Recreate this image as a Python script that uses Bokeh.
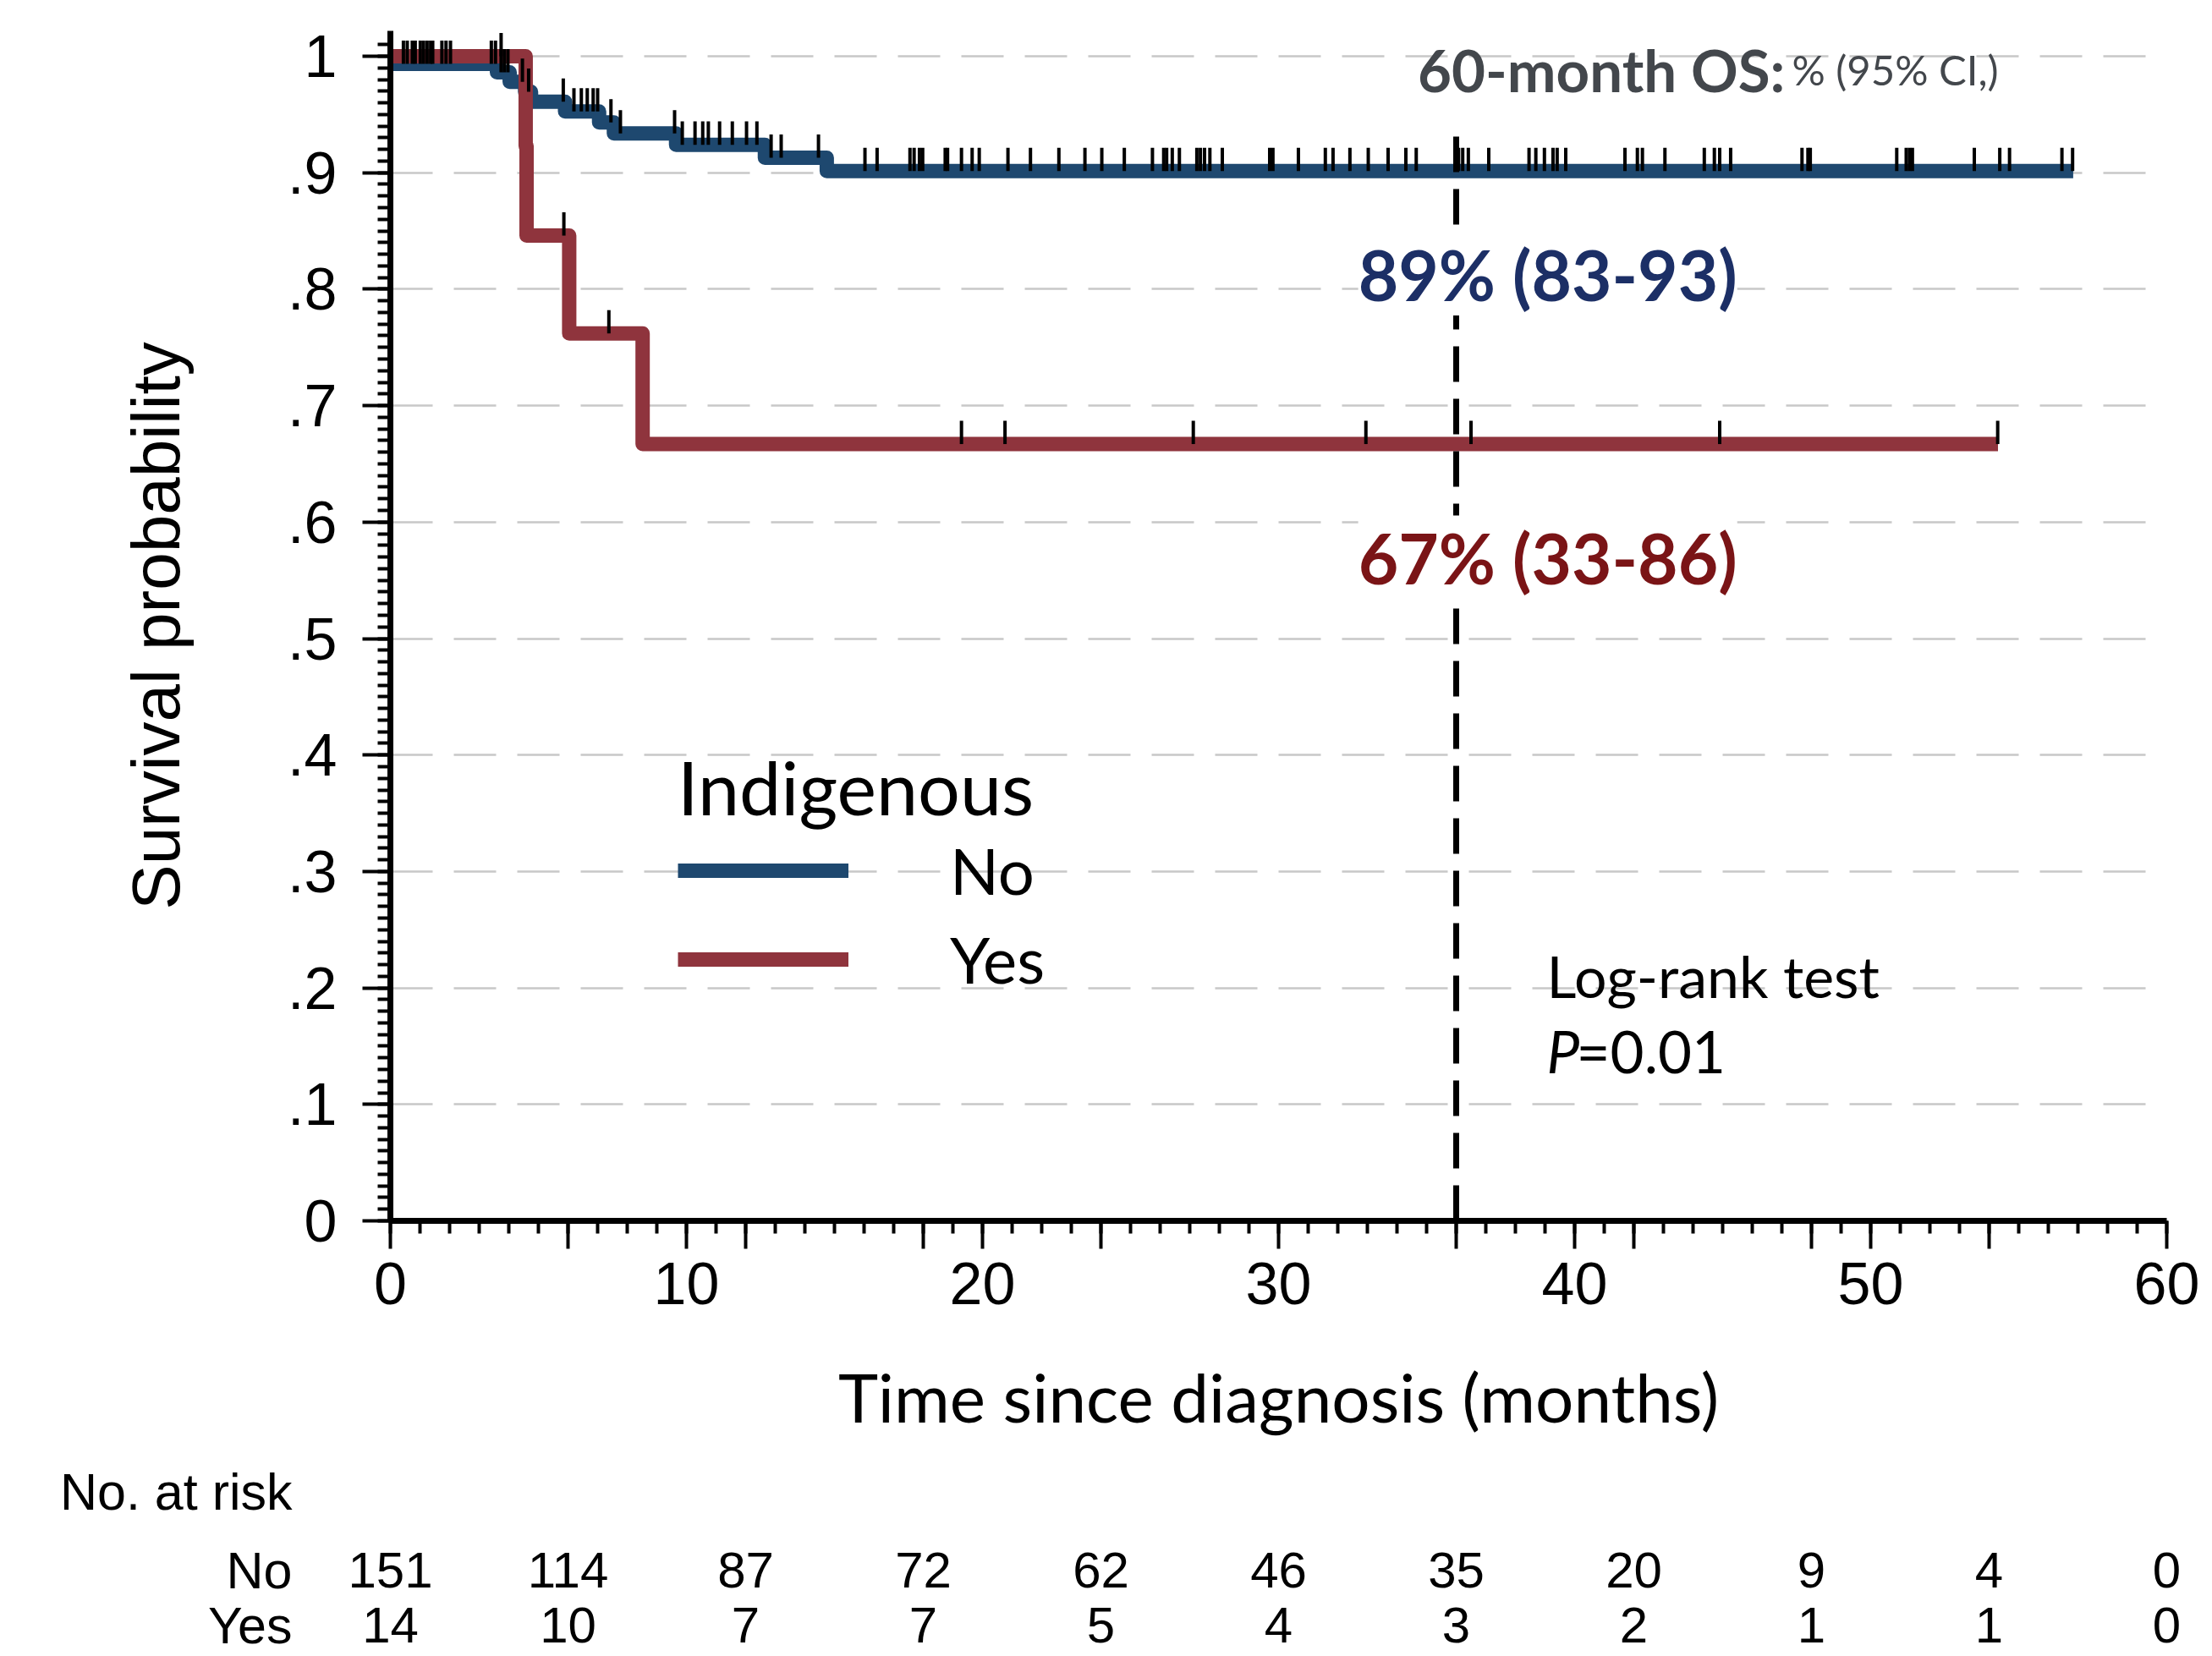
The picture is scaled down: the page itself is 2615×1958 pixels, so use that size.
import numpy as np
from bokeh.plotting import figure
from bokeh.models import Range1d, FixedTicker, Legend, LegendItem, Label
from bokeh.core.properties import value
from bokeh.layouts import column
from bokeh.embed import file_html
from bokeh.resources import INLINE

# ---------------- data ----------------
groups = ["No", "Yes"]
legend_title = "Indigenous"

# Kaplan-Meier steps (time in months, survival probability)
no_times = [0, 3.6, 4.03, 4.55, 4.75, 5.9, 7.05, 7.55, 9.65, 12.65, 14.74]
no_surv = [0.9935, 0.9862, 0.978, 0.9695, 0.961, 0.9526, 0.9431, 0.9337, 0.924, 0.9129, 0.9014]
no_last = 56.84
no_censor = [0.44, 0.57, 0.74, 0.84, 1.01, 1.12, 1.24, 1.36, 1.43, 1.74, 1.88, 2.03,
             3.41, 3.55, 3.74, 3.85, 3.97, 4.46, 4.67, 5.84, 6.2, 6.45, 6.65, 6.85,
             7.0, 7.45, 7.77, 9.6, 9.86, 10.29, 10.55, 10.74, 11.12, 11.55, 12.03,
             12.38, 12.86, 13.2, 14.46, 16.03, 16.44, 17.55, 17.69, 17.87, 17.98,
             18.74, 18.82, 19.29, 19.65, 19.89, 20.86, 21.62, 22.58, 23.46, 24.03,
             24.79, 25.74, 26.12, 26.22, 26.41, 26.65, 27.24, 27.36, 27.5, 27.68,
             28.1, 29.7, 29.81, 30.67, 31.58, 31.84, 32.41, 33.03, 33.7, 34.3,
             34.65, 36.08, 36.22, 36.41, 37.1, 38.46, 38.69, 38.98, 39.27, 39.41,
             39.7, 41.7, 42.12, 42.29, 43.05, 44.38, 44.72, 44.9, 45.27, 47.68,
             47.88, 47.96, 50.88, 51.2, 51.31, 51.41, 53.5, 54.36, 54.69, 56.46, 56.82]

yes_times = [0, 4.57, 4.60, 6.04, 8.52]
yes_surv = [1.0, 0.923, 0.846, 0.762, 0.667]
yes_last = 54.3
yes_censor = [3.74, 5.86, 7.38, 19.29, 20.76, 27.12, 32.95, 36.5, 44.9, 54.29]

x_label_ticks = [0, 10, 20, 30, 40, 50, 60]
y_major_ticks = [0.0, 0.1, 0.2, 0.3, 0.4, 0.5, 0.6, 0.7, 0.8, 0.9, 1.0]
y_tick_labels = ["0", ".1", ".2", ".3", ".4", ".5", ".6", ".7", ".8", ".9", "1"]

risk_times = [0, 6, 12, 18, 24, 30, 36, 42, 48, 54, 60]
risk_no = [151, 114, 87, 72, 62, 46, 35, 20, 9, 4, 0]
risk_yes = [14, 10, 7, 7, 5, 4, 3, 2, 1, 1, 0]
risk_header = "No. at risk"

landmark = 36
os_header = "60-month OS:"
os_sub = "% (95% CI,)"
os_no = "89% (83-93)"
os_yes = "67% (33-86)"
test_name = "Log-rank test"
p_text = "=0.01"

# ---------------- styles ----------------
BLUE = "#1e486f"
RED = "#8f343d"
SANS = "Liberation Sans"
CAL = "Lato"
W = 2615
MAIN_H = 1720
TBL_H = 1958 - MAIN_H
LEFT = 461
RIGHT = 2561
TOP = 36
PX_PER_UNIT = 1377.0
FRAME_H = MAIN_H - TOP - 277
Y_END = FRAME_H / PX_PER_UNIT
TICK_LEN = 0.02
CURVE_W = 17

p = figure(width=W, height=MAIN_H, x_range=Range1d(0, 60), y_range=Range1d(0, Y_END),
           min_border_left=LEFT, min_border_right=W - RIGHT, min_border_top=TOP,
           min_border_bottom=MAIN_H - TOP - FRAME_H,
           toolbar_location=None, output_backend="svg")
p.frame_align = False
p.outline_line_color = None
p.background_fill_color = "white"
p.border_fill_color = "white"

# axes
xmajor = sorted(set(x_label_ticks) | set(risk_times))
p.xaxis.ticker = FixedTicker(ticks=xmajor, minor_ticks=list(range(0, 61)))
p.xaxis.major_label_overrides = {t: (str(t) if t in x_label_ticks else "") for t in xmajor}
p.yaxis.ticker = FixedTicker(ticks=y_major_ticks,
                             minor_ticks=[round(i * 0.01, 2) for i in range(0, 102)])
p.yaxis.major_label_overrides = dict(zip(y_major_ticks, y_tick_labels))
for ax in (p.xaxis[0], p.yaxis[0]):
    ax.axis_line_width = 7
    ax.axis_line_color = "black"
    ax.major_tick_line_width = 4
    ax.minor_tick_line_width = 4
    ax.major_tick_in = 0
    ax.minor_tick_in = 0
    ax.major_tick_out = 33
    ax.minor_tick_out = 15
    ax.major_label_text_font = SANS
    ax.major_label_text_font_size = "70px"
    ax.major_label_text_color = "black"
    ax.axis_label_text_font_style = "normal"
    ax.axis_label_text_color = "black"
p.xaxis.major_label_standoff = 16
p.yaxis.major_label_standoff = 30
p.xaxis.axis_label = "Time since diagnosis (months)"
p.xaxis.axis_label_text_font = CAL
p.xaxis.axis_label_text_font_size = "80px"
p.xaxis.axis_label_standoff = 58
p.yaxis.axis_label = "Survival probability"
p.yaxis.axis_label_text_font = SANS
p.yaxis.axis_label_text_font_size = "80px"
p.yaxis.axis_label_standoff = 108

p.xgrid.visible = False
p.ygrid.ticker = FixedTicker(ticks=y_major_ticks)
p.ygrid.grid_line_color = "#c8c8c8"
p.ygrid.grid_line_width = 2.5
p.ygrid.grid_line_dash = "50 25"


def level_at(times, surv, t):
    idx = np.searchsorted(np.asarray(times), t, side="right") - 1
    return np.asarray(surv)[idx]


curves = [
    (no_times, no_surv, no_last, no_censor, BLUE),
    (yes_times, yes_surv, yes_last, yes_censor, RED),
]
renderers = []
for times, surv, last, cens, col in curves:
    r = p.step(x=list(times) + [last], y=list(surv) + [surv[-1]], mode="after",
               line_width=CURVE_W, line_color=col, line_join="round")
    renderers.append(r)

for times, surv, last, cens, col in curves:
    lv = level_at(times, surv, cens)
    p.segment(x0=cens, y0=lv, x1=cens, y1=lv + TICK_LEN, line_color="black", line_width=4)

# landmark dashed line
p.line(x=[landmark, landmark], y=[0, 0.935], line_color="black", line_width=7,
       line_dash="42 20")

# legend
legend = Legend(items=[LegendItem(label=g, renderers=[r]) for g, r in zip(groups, renderers)],
                title=legend_title, location=(340, 264))
legend.title_text_font = CAL
legend.title_text_font_size = "88px"
legend.title_text_font_style = "normal"
legend.title_text_color = "black"
legend.title_standoff = 0
legend.label_text_font = CAL
legend.label_text_font_size = "76px"
legend.label_text_color = "black"
legend.glyph_width = 202
legend.glyph_height = 20
legend.label_height = 20
legend.label_standoff = 120
legend.spacing = 14
legend.padding = 0
legend.margin = 0
legend.border_line_color = None
legend.background_fill_alpha = 0
p.add_layout(legend)

# annotations
GRAY = "#43474c"
p.add_layout(Label(x=34.7, y=0.9885, text=os_header, text_font=CAL, text_font_style="bold",
                   text_font_size="69px", text_color=GRAY, text_baseline="alphabetic"))
p.add_layout(Label(x=47.34, y=0.9885, text=os_sub, text_font=CAL,
                   text_font_size="49px", text_color=GRAY, text_baseline="alphabetic"))
p.add_layout(Label(x=32.69, y=0.813, text=os_no, text_font=CAL, text_font_style="bold",
                   text_font_size="82px", text_color="#1c2f66", text_baseline="alphabetic",
                   background_fill_color="white"))
p.add_layout(Label(x=32.69, y=0.570, text=os_yes, text_font=CAL, text_font_style="bold",
                   text_font_size="82px", text_color="#7a1416", text_baseline="alphabetic",
                   background_fill_color="white"))
p.add_layout(Label(x=39.06, y=0.2105, text=test_name, text_font=CAL,
                   text_font_size="68px", text_color="black", text_baseline="alphabetic"))
p.add_layout(Label(x=39.06, y=0.146, text="P", text_font=CAL, text_font_style="italic",
                   text_font_size="69px", text_color="black", text_baseline="alphabetic"))
p.add_layout(Label(x=39.06, y=0.146, x_offset=35, text=p_text, text_font=CAL,
                   text_font_size="69px", text_color="black", text_baseline="alphabetic"))

# ---------------- number at risk table ----------------
row_pos = {"No": 2, "Yes": 1}
header_pos = 3.43
T_PAD_L = 2.0
T_PAD_R = 1.4
T_LEFT = LEFT - int(T_PAD_L * 35)
t = figure(width=W, height=TBL_H, x_range=Range1d(-T_PAD_L, 60 + T_PAD_R),
           y_range=Range1d(0.431, 4.092),
           min_border_left=T_LEFT, min_border_right=W - (RIGHT + int(T_PAD_R * 35)),
           min_border_top=0, min_border_bottom=0, x_axis_location=None,
           toolbar_location=None, output_backend="svg")
t.frame_align = False
t.outline_line_color = None
t.grid.visible = False
t.yaxis.ticker = FixedTicker(ticks=[row_pos["Yes"], row_pos["No"], header_pos])
t.yaxis.major_label_overrides = {row_pos["Yes"]: "Yes", row_pos["No"]: "No",
                                 header_pos: risk_header}
t.yaxis.axis_line_color = None
t.yaxis.major_tick_line_color = None
t.yaxis.minor_tick_line_color = None
t.yaxis.major_label_standoff = T_LEFT - 351
t.yaxis.major_label_text_font = SANS
t.yaxis.major_label_text_font_size = "61px"
t.yaxis.major_label_text_color = "black"

for g, counts in zip(groups, [risk_no, risk_yes]):
    t.text(x=risk_times, y=[row_pos[g]] * len(risk_times), text=[str(c) for c in counts],
           text_align="center", text_baseline="middle", text_font_size="60px",
           text_font=value(SANS), text_color="black")

layout = column(p, t)
open("out.html", "w").write(file_html(layout, INLINE))
